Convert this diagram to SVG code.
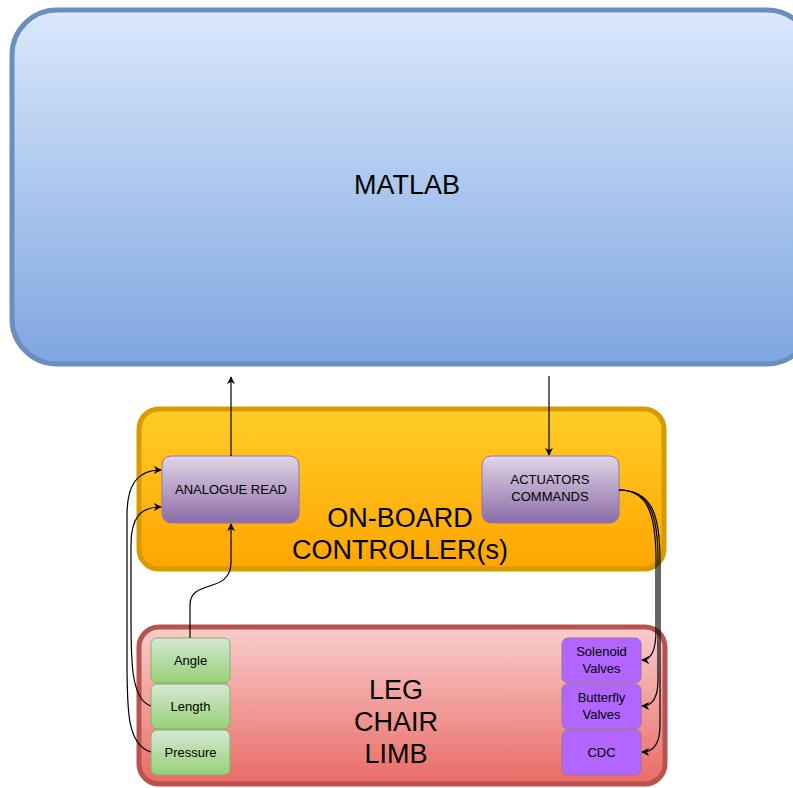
<svg xmlns="http://www.w3.org/2000/svg" width="793" height="788" viewBox="0 0 793 788">
<defs>
<linearGradient id="gBlue" x1="0" y1="0" x2="0" y2="1"><stop offset="0" stop-color="#dae8fc"/><stop offset="1" stop-color="#7ea6e0"/></linearGradient>
<linearGradient id="gOrange" x1="0" y1="0" x2="0" y2="1"><stop offset="0" stop-color="#ffcd28"/><stop offset="1" stop-color="#ffa500"/></linearGradient>
<linearGradient id="gRed" x1="0" y1="0" x2="0" y2="1"><stop offset="0" stop-color="#f8cecc"/><stop offset="1" stop-color="#ea6b66"/></linearGradient>
<linearGradient id="gPurple" x1="0" y1="0" x2="0" y2="1"><stop offset="0" stop-color="#e1d5e7"/><stop offset="1" stop-color="#8c6ca8"/></linearGradient>
<linearGradient id="gGreen" x1="0" y1="0" x2="0" y2="1"><stop offset="0" stop-color="#d5e8d4"/><stop offset="1" stop-color="#97d077"/></linearGradient>
<marker id="arr" viewBox="0 0 10 10" refX="9" refY="5" markerWidth="8" markerHeight="8" markerUnits="userSpaceOnUse" orient="auto">
<path d="M0,0 L10,5 L0,10 L3,5 Z" fill="#000"/>
</marker>
</defs>
<style>
text{font-family:"Liberation Sans",Arial,sans-serif;fill:#000;text-anchor:middle}
.big{font-size:27px}
.sm{font-size:13px}
.conn{fill:none;stroke:#000;stroke-width:1.2}
</style>
<rect width="793" height="788" fill="#fff"/>
<g id="matlab">
<rect x="12" y="10" width="800" height="354" rx="45" fill="url(#gBlue)" stroke="#6c8ebf" stroke-width="5"/>
<text class="big" x="407" y="194">MATLAB</text>
</g>
<g id="controller">
<rect x="139" y="409" width="525" height="160" rx="20" fill="url(#gOrange)" stroke="#d79b00" stroke-width="5"/>
<text class="big" x="400" y="527">ON-BOARD</text>
<text class="big" x="400" y="559">CONTROLLER(s)</text>
</g>
<g id="analogue">
<rect x="162" y="456" width="137" height="67" rx="9" fill="url(#gPurple)" stroke="#9673a6" stroke-width="1"/>
<text class="sm" x="231" y="494">ANALOGUE READ</text>
</g>
<g id="actuators">
<rect x="482" y="456" width="137" height="67" rx="9" fill="url(#gPurple)" stroke="#9673a6" stroke-width="1"/>
<text class="sm" x="550" y="484">ACTUATORS</text>
<text class="sm" x="550" y="501">COMMANDS</text>
</g>
<g id="leg">
<rect x="139" y="627" width="526" height="157" rx="20" fill="url(#gRed)" stroke="#b85450" stroke-width="5"/>
<text class="big" x="396" y="699">LEG</text>
<text class="big" x="396" y="731">CHAIR</text>
<text class="big" x="396" y="763">LIMB</text>
</g>
<g id="angle">
<rect x="151" y="638" width="79" height="45" rx="6" fill="url(#gGreen)" stroke="#82b366" stroke-width="1"/>
<text class="sm" x="190.5" y="665">Angle</text>
</g>
<g id="length">
<rect x="151" y="684" width="79" height="45" rx="6" fill="url(#gGreen)" stroke="#82b366" stroke-width="1"/>
<text class="sm" x="190.5" y="711">Length</text>
</g>
<g id="pressure">
<rect x="151" y="730" width="79" height="45" rx="6" fill="url(#gGreen)" stroke="#82b366" stroke-width="1"/>
<text class="sm" x="190.5" y="757">Pressure</text>
</g>
<g id="solenoid">
<rect x="562" y="638" width="79" height="45" rx="6" fill="#b266ff" stroke="#9673a6" stroke-width="1"/>
<text class="sm" x="601.5" y="656">Solenoid</text>
<text class="sm" x="601.5" y="673">Valves</text>
</g>
<g id="butterfly">
<rect x="562" y="684" width="79" height="45" rx="6" fill="#b266ff" stroke="#9673a6" stroke-width="1"/>
<text class="sm" x="601.5" y="702">Butterfly</text>
<text class="sm" x="601.5" y="719">Valves</text>
</g>
<g id="cdc">
<rect x="562" y="730" width="79" height="45" rx="6" fill="#b266ff" stroke="#9673a6" stroke-width="1"/>
<text class="sm" x="601.5" y="757">CDC</text>
</g>
<g id="connectors">
<path class="conn" d="M231,456 L231,377" marker-end="url(#arr)"/>
<path class="conn" d="M549,376 L549,455" marker-end="url(#arr)"/>
<path class="conn" d="M190,638 L190,605 C190,578 231,595 231,562 L231,524" marker-end="url(#arr)"/>
<path class="conn" d="M151,706 C131,700 131,660 131,620 L131,545 C131,518 140,507 161,507" marker-end="url(#arr)"/>
<path class="conn" d="M151,752 C127,745 127,710 127,660 L127,515 C127,485 137,470 161,470" marker-end="url(#arr)"/>
<path class="conn" d="M619,490 C648,490 656,515 656,560 L656,630 C656,650 652,660 642,660" marker-end="url(#arr)"/>
<path class="conn" d="M619,490 C650,490 658,515 658,560 L658,680 C658,698 652,706 642,706" marker-end="url(#arr)"/>
<path class="conn" d="M619,490 C652,490 660,515 660,560 L660,725 C660,744 654,752 642,752" marker-end="url(#arr)"/>
</g>
</svg>
